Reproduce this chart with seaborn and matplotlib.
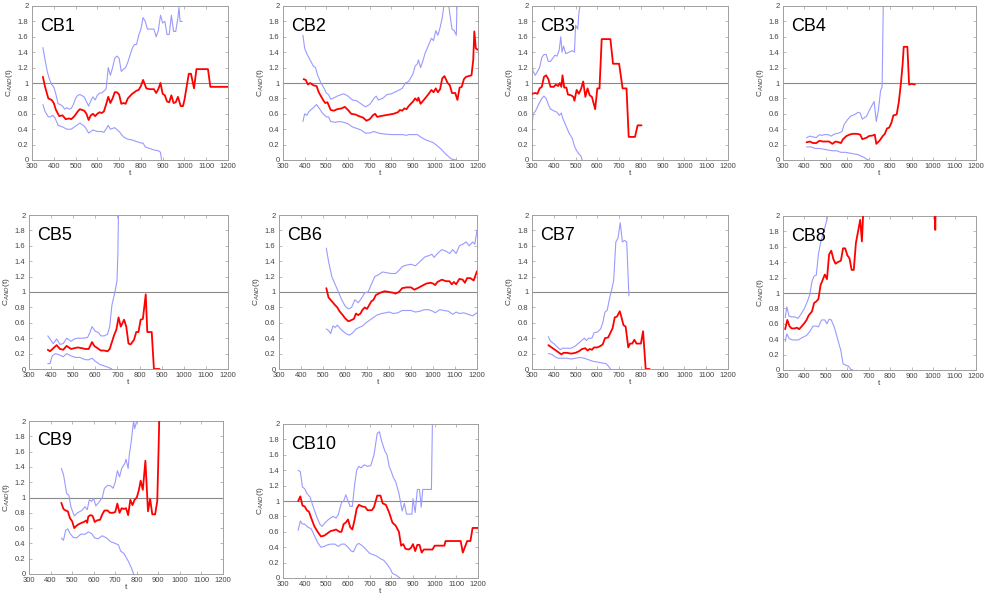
import numpy as np
import pandas as pd
import matplotlib
matplotlib.use("Agg")
import matplotlib.pyplot as plt
import seaborn as sns

# ---- series per case: (t, C_AND estimate), upper and lower confidence bounds ----
cb1_t = [350, 360, 375, 390, 400, 410, 425, 440, 455, 470, 480, 495, 510, 520, 540, 550, 560, 570, 580, 590, 600, 610, 620, 630, 640, 650, 660, 670, 680, 690, 700, 710, 720, 730, 740, 760, 780, 790, 800, 810, 825, 840, 860, 870, 880, 890, 900, 910, 920, 930, 940, 950, 960, 970, 983, 993, 1000, 1010, 1020, 1030, 1044, 1055, 1070, 1108, 1119, 1200]
cb1_c = [1.08, 0.95, 0.8, 0.78, 0.74, 0.65, 0.57, 0.58, 0.53, 0.54, 0.53, 0.57, 0.63, 0.66, 0.64, 0.6, 0.52, 0.58, 0.6, 0.57, 0.6, 0.62, 0.61, 0.63, 0.72, 0.82, 0.74, 0.8, 0.88, 0.88, 0.85, 0.73, 0.74, 0.73, 0.8, 0.86, 0.9, 0.91, 0.96, 1.04, 0.93, 0.92, 0.92, 0.87, 0.92, 1.0, 0.86, 0.84, 0.76, 0.75, 0.84, 0.74, 0.75, 0.82, 0.7, 0.7, 0.78, 0.95, 1.12, 1.12, 0.93, 1.18, 1.18, 1.18, 0.95, 0.95]
cb1_ut = [350, 360, 370, 380, 390, 400, 410, 420, 430, 440, 450, 460, 470, 480, 490, 500, 510, 520, 540, 550, 560, 570, 580, 590, 600, 610, 620, 640, 645, 650, 660, 670, 680, 690, 700, 710, 720, 730, 740, 760, 770, 780, 790, 800, 810, 820, 830, 840, 860, 870, 880, 890, 900, 910, 920, 930, 940, 950, 960, 970, 975, 980, 990]
cb1_u = [1.46, 1.3, 1.15, 1.05, 0.98, 0.95, 0.85, 0.73, 0.72, 0.7, 0.66, 0.68, 0.66, 0.67, 0.72, 0.8, 0.84, 0.85, 0.82, 0.76, 0.7, 0.77, 0.82, 0.78, 0.84, 0.87, 0.87, 0.92, 1.05, 1.2, 1.1, 1.2, 1.32, 1.35, 1.32, 1.15, 1.18, 1.2, 1.27, 1.45, 1.5, 1.5, 1.62, 1.7, 1.85, 1.8, 1.7, 1.7, 1.7, 1.6, 1.68, 1.88, 1.78, 1.8, 1.63, 1.63, 1.88, 1.67, 1.67, 1.85, 1.98, 1.8, 1.8]
cb1_lt = [350, 360, 375, 385, 395, 405, 420, 440, 460, 480, 500, 520, 540, 550, 560, 580, 600, 620, 630, 640, 650, 660, 680, 700, 720, 740, 760, 780, 800, 810, 820, 840, 860, 880, 890, 895]
cb1_l = [0.72, 0.63, 0.56, 0.56, 0.58, 0.55, 0.45, 0.43, 0.4, 0.4, 0.44, 0.48, 0.44, 0.4, 0.35, 0.39, 0.37, 0.37, 0.36, 0.4, 0.45, 0.4, 0.42, 0.37, 0.3, 0.27, 0.26, 0.24, 0.22, 0.22, 0.17, 0.15, 0.13, 0.12, 0.1, 0.0]

cb2_t = [395, 405, 415, 425, 440, 455, 465, 475, 485, 495, 505, 520, 535, 550, 570, 585, 600, 615, 635, 650, 670, 685, 700, 715, 725, 735, 750, 770, 790, 810, 830, 840, 850, 860, 870, 880, 900, 910, 920, 925, 935, 950, 970, 985, 995, 1005, 1015, 1025, 1035, 1045, 1060, 1070, 1080, 1095, 1105, 1115, 1125, 1135, 1145, 1170, 1178, 1183, 1190, 1200]
cb2_c = [1.05, 1.04, 0.98, 1.0, 0.97, 0.96, 0.88, 0.83, 0.78, 0.74, 0.75, 0.65, 0.64, 0.66, 0.67, 0.69, 0.65, 0.6, 0.59, 0.57, 0.55, 0.51, 0.53, 0.58, 0.6, 0.56, 0.57, 0.58, 0.59, 0.6, 0.62, 0.65, 0.64, 0.67, 0.66, 0.7, 0.76, 0.8, 0.77, 0.81, 0.73, 0.78, 0.85, 0.91, 0.88, 0.93, 0.88, 0.92, 1.06, 1.09, 1.0, 0.97, 0.87, 0.87, 0.78, 0.94, 0.95, 1.05, 1.08, 1.1, 1.3, 1.67, 1.45, 1.43]
cb2_ut = [392, 400, 410, 425, 440, 450, 460, 475, 490, 500, 510, 520, 530, 550, 570, 580, 600, 620, 640, 660, 680, 700, 720, 730, 740, 760, 780, 800, 830, 850, 865, 880, 900, 910, 920, 925, 935, 945, 955, 970, 985, 995, 1005, 1015, 1025, 1035, 1045, 1060, 1080, 1090, 1100, 1105]
cb2_u = [1.62, 1.45, 1.38, 1.3, 1.22, 1.2, 1.1, 1.0, 0.93, 0.87, 0.85, 0.79, 0.8, 0.83, 0.85, 0.86, 0.83, 0.78, 0.77, 0.73, 0.69, 0.72, 0.8, 0.83, 0.78, 0.8, 0.85, 0.86, 0.9, 0.93, 1.0, 1.02, 1.12, 1.22, 1.25, 1.3, 1.2, 1.28, 1.38, 1.48, 1.58, 1.55, 1.68, 1.62, 1.72, 1.85, 2.05, 2.1, 1.7, 1.68, 1.62, 2.3]
cb2_lt = [392, 400, 410, 420, 440, 455, 470, 485, 500, 510, 520, 540, 560, 580, 600, 620, 640, 660, 680, 700, 720, 740, 760, 800, 850, 870, 880, 900, 920, 940, 960, 990, 1010, 1030, 1050, 1070, 1080, 1100]
cb2_l = [0.5, 0.6, 0.58, 0.63, 0.68, 0.72, 0.66, 0.6, 0.56, 0.56, 0.5, 0.49, 0.5, 0.49, 0.47, 0.43, 0.41, 0.39, 0.35, 0.35, 0.37, 0.35, 0.34, 0.33, 0.33, 0.32, 0.33, 0.33, 0.33, 0.29, 0.26, 0.23, 0.19, 0.14, 0.08, 0.03, 0.01, 0.0]

cb3_t = [300, 315, 325, 335, 345, 355, 365, 375, 385, 400, 410, 420, 428, 435, 440, 448, 458, 465, 480, 490, 495, 505, 515, 525, 535, 545, 555, 565, 575, 590, 600, 610, 620, 660, 672, 700, 716, 734, 744, 773, 785, 803]
cb3_c = [0.86, 0.87, 0.86, 0.93, 0.95, 1.08, 1.1, 1.05, 0.95, 0.95, 0.98, 0.96, 1.0, 0.95, 1.1, 0.94, 0.94, 0.85, 0.84, 0.82, 0.77, 0.91, 0.86, 0.92, 1.02, 0.82, 0.93, 0.84, 0.82, 0.66, 0.93, 0.93, 1.57, 1.57, 1.25, 1.25, 0.93, 0.93, 0.3, 0.3, 0.45, 0.45]
cb3_ut = [300, 305, 315, 325, 335, 345, 355, 365, 375, 385, 395, 405, 415, 425, 432, 438, 445, 455, 470, 485, 495, 500, 510, 515, 520, 525]
cb3_u = [1.25, 1.15, 1.1, 1.15, 1.2, 1.33, 1.37, 1.37, 1.28, 1.28, 1.32, 1.36, 1.35, 1.43, 1.6, 1.4, 1.48, 1.38, 1.4, 1.42, 1.4, 1.75, 1.7, 1.9, 2.0, 2.1]
cb3_lt = [300, 305, 315, 330, 345, 355, 365, 375, 385, 400, 415, 425, 435, 440, 455, 470, 485, 495, 505, 515, 525, 530]
cb3_l = [0.43, 0.6, 0.63, 0.72, 0.8, 0.83, 0.8, 0.72, 0.66, 0.64, 0.62, 0.58, 0.61, 0.55, 0.45, 0.35, 0.28, 0.18, 0.12, 0.08, 0.05, 0.0]

cb4_t = [410, 425, 440, 455, 470, 485, 500, 515, 530, 545, 560, 570, 580, 595, 610, 625, 645, 660, 670, 690, 700, 720, 728, 735, 750, 765, 775, 785, 795, 805, 815, 830, 840, 850, 858, 863, 880, 888, 900, 915]
cb4_c = [0.23, 0.24, 0.22, 0.22, 0.25, 0.24, 0.24, 0.24, 0.21, 0.24, 0.23, 0.22, 0.27, 0.31, 0.33, 0.34, 0.34, 0.33, 0.27, 0.29, 0.31, 0.32, 0.33, 0.21, 0.25, 0.31, 0.34, 0.41, 0.42, 0.48, 0.58, 0.59, 0.75, 1.0, 1.25, 1.47, 1.47, 0.98, 0.99, 0.98]
cb4_ut = [410, 425, 440, 455, 470, 480, 495, 510, 525, 535, 545, 560, 575, 585, 600, 615, 625, 640, 650, 660, 670, 690, 705, 715, 725, 735, 745, 755, 762, 765, 768]
cb4_u = [0.29, 0.31, 0.3, 0.29, 0.33, 0.32, 0.33, 0.33, 0.31, 0.33, 0.34, 0.35, 0.37, 0.46, 0.52, 0.57, 0.58, 0.6, 0.62, 0.61, 0.53, 0.57, 0.66, 0.71, 0.76, 0.5, 0.65, 0.9, 0.95, 1.5, 2.1]
cb4_lt = [410, 430, 450, 470, 490, 510, 530, 550, 570, 590, 610, 630, 650, 665, 680, 690, 700]
cb4_l = [0.17, 0.17, 0.15, 0.15, 0.14, 0.13, 0.12, 0.12, 0.1, 0.1, 0.09, 0.08, 0.07, 0.05, 0.03, 0.01, 0.0]

cb5_t = [385, 395, 410, 425, 440, 455, 470, 480, 490, 505, 520, 540, 555, 570, 585, 595, 610, 625, 640, 655, 665, 675, 685, 695, 705, 715, 730, 740, 750, 760, 775, 785, 795, 805, 815, 828, 835, 855, 865, 890]
cb5_c = [0.25, 0.23, 0.27, 0.31, 0.26, 0.25, 0.3, 0.28, 0.26, 0.27, 0.28, 0.27, 0.26, 0.26, 0.35, 0.3, 0.27, 0.24, 0.24, 0.23, 0.26, 0.35, 0.44, 0.51, 0.67, 0.55, 0.64, 0.55, 0.33, 0.32, 0.38, 0.48, 0.48, 0.64, 0.65, 0.97, 0.48, 0.48, 0.0, 0.0]
cb5_ut = [385, 400, 410, 425, 440, 455, 470, 490, 505, 520, 545, 565, 575, 585, 600, 615, 625, 640, 655, 665, 675, 690, 698, 702, 705]
cb5_u = [0.43, 0.37, 0.33, 0.39, 0.32, 0.33, 0.4, 0.36, 0.39, 0.4, 0.4, 0.41, 0.47, 0.55, 0.49, 0.47, 0.43, 0.43, 0.45, 0.55, 0.83, 1.02, 1.15, 1.5, 2.1]
cb5_lt = [385, 395, 405, 420, 440, 455, 470, 490, 510, 530, 555, 570, 585, 600, 620, 640, 660, 675]
cb5_l = [0.07, 0.07, 0.17, 0.2, 0.18, 0.16, 0.2, 0.17, 0.15, 0.15, 0.12, 0.12, 0.14, 0.1, 0.06, 0.04, 0.02, 0.0]

cb6_t = [515, 525, 540, 555, 565, 575, 590, 600, 615, 625, 640, 650, 660, 670, 680, 690, 700, 710, 720, 730, 740, 760, 780, 800, 820, 830, 845, 860, 880, 900, 915, 930, 950, 970, 990, 1000, 1010, 1020, 1040, 1060, 1075, 1085, 1095, 1105, 1120, 1135, 1145, 1155, 1170, 1185, 1200]
cb6_c = [1.05, 0.93, 0.88, 0.83, 0.8, 0.75, 0.7, 0.66, 0.62, 0.63, 0.65, 0.72, 0.7, 0.72, 0.77, 0.8, 0.78, 0.83, 0.88, 0.9, 0.96, 0.99, 1.01, 1.0, 0.99, 0.98, 1.0, 1.05, 1.06, 1.06, 1.03, 1.05, 1.08, 1.11, 1.12, 1.11, 1.09, 1.13, 1.16, 1.14, 1.14, 1.1, 1.13, 1.1, 1.17, 1.16, 1.12, 1.18, 1.18, 1.15, 1.27]
cb6_ut = [515, 525, 540, 555, 570, 585, 600, 615, 630, 645, 660, 675, 690, 705, 720, 735, 750, 770, 790, 810, 830, 845, 860, 880, 900, 920, 935, 950, 965, 980, 995, 1005, 1020, 1040, 1060, 1075, 1090, 1105, 1120, 1135, 1150, 1165, 1180, 1190, 1200]
cb6_u = [1.57, 1.4, 1.2, 1.1, 1.0, 0.9, 0.82, 0.78, 0.8, 0.9, 0.86, 0.92, 0.99, 1.0, 1.1, 1.2, 1.22, 1.26, 1.25, 1.24, 1.24, 1.28, 1.33, 1.35, 1.36, 1.34, 1.38, 1.42, 1.46, 1.47, 1.49, 1.45, 1.5, 1.55, 1.53, 1.5, 1.55, 1.5, 1.6, 1.62, 1.65, 1.6, 1.65, 1.62, 1.8]
cb6_lt = [515, 525, 535, 545, 555, 565, 580, 595, 610, 620, 635, 650, 665, 680, 695, 710, 725, 745, 765, 785, 800, 820, 840, 860, 880, 900, 920, 940, 960, 980, 1000, 1010, 1030, 1050, 1070, 1090, 1105, 1120, 1140, 1160, 1180, 1200]
cb6_l = [0.52, 0.5, 0.46, 0.56, 0.54, 0.57, 0.52, 0.48, 0.45, 0.44, 0.47, 0.52, 0.54, 0.56, 0.6, 0.63, 0.66, 0.7, 0.72, 0.73, 0.74, 0.72, 0.73, 0.76, 0.76, 0.76, 0.74, 0.75, 0.77, 0.77, 0.75, 0.73, 0.77, 0.76, 0.75, 0.71, 0.74, 0.72, 0.73, 0.71, 0.69, 0.73]

cb7_t = [375, 390, 405, 420, 435, 445, 460, 480, 500, 515, 530, 545, 555, 565, 575, 585, 600, 615, 625, 635, 650, 660, 670, 680, 690, 703, 710, 720, 730, 742, 750, 760, 770, 780, 800, 810, 822, 840]
cb7_c = [0.31, 0.28, 0.25, 0.22, 0.19, 0.21, 0.21, 0.2, 0.21, 0.23, 0.26, 0.27, 0.24, 0.26, 0.25, 0.28, 0.28, 0.3, 0.32, 0.4, 0.41, 0.47, 0.53, 0.67, 0.68, 0.75, 0.68, 0.57, 0.55, 0.28, 0.33, 0.33, 0.38, 0.33, 0.33, 0.49, 0.0, 0.0]
cb7_ut = [375, 385, 400, 415, 430, 440, 460, 480, 500, 520, 540, 550, 560, 575, 585, 600, 615, 625, 635, 645, 655, 665, 675, 685, 695, 705, 715, 725, 735, 745]
cb7_u = [0.42, 0.36, 0.33, 0.29, 0.25, 0.27, 0.27, 0.27, 0.3, 0.35, 0.4, 0.37, 0.4, 0.4, 0.47, 0.48, 0.52, 0.6, 0.74, 0.76, 0.9, 1.02, 1.15, 1.65, 1.7, 1.9, 1.65, 1.67, 1.65, 0.95]
cb7_lt = [375, 390, 405, 420, 440, 460, 480, 500, 520, 540, 560, 580, 600, 620, 640, 650, 660]
cb7_l = [0.2, 0.19, 0.16, 0.14, 0.14, 0.14, 0.13, 0.14, 0.15, 0.14, 0.12, 0.1, 0.09, 0.08, 0.07, 0.04, 0.0]

cb8_t = [310, 320, 330, 340, 355, 365, 375, 385, 400, 410, 420, 435, 445, 455, 465, 475, 485, 495, 505, 515, 525, 535, 545, 555, 570, 580, 590, 600, 610, 620, 630, 640, 650, 660, 668, 675, 690, 1005, 1010, 1013]
cb8_c = [0.53, 0.65, 0.57, 0.54, 0.54, 0.55, 0.53, 0.56, 0.61, 0.65, 0.71, 0.76, 0.87, 0.89, 0.92, 1.1, 1.17, 1.24, 1.18, 1.5, 1.55, 1.44, 1.38, 1.4, 1.42, 1.58, 1.58, 1.49, 1.45, 1.3, 1.3, 1.65, 1.8, 1.95, 1.67, 2.1, 2.4, 2.4, 1.82, 2.4]
cb8_ut = [310, 318, 328, 340, 355, 370, 385, 400, 415, 425, 435, 445, 455, 465, 475, 485, 495, 505, 512]
cb8_u = [0.68, 0.82, 0.7, 0.69, 0.69, 0.67, 0.73, 0.8, 0.9, 0.98, 1.15, 1.22, 1.23, 1.5, 1.65, 1.75, 1.85, 1.95, 2.1]
cb8_lt = [310, 318, 328, 345, 370, 390, 410, 425, 440, 455, 465, 480, 495, 505, 515, 525, 540, 555, 570, 580, 595, 605, 615, 625]
cb8_l = [0.37, 0.47, 0.41, 0.39, 0.39, 0.42, 0.45, 0.5, 0.57, 0.57, 0.56, 0.65, 0.65, 0.6, 0.66, 0.65, 0.55, 0.4, 0.25, 0.08, 0.06, 0.05, 0.01, 0.0]

cb9_t = [450, 460, 470, 480, 490, 500, 510, 520, 530, 545, 555, 565, 570, 575, 585, 595, 605, 615, 630, 640, 650, 665, 675, 690, 700, 710, 720, 730, 740, 750, 760, 770, 780, 790, 800, 810, 818, 828, 840, 852, 862, 872, 885, 895, 900, 905]
cb9_c = [0.93, 0.85, 0.83, 0.82, 0.73, 0.69, 0.6, 0.63, 0.65, 0.67, 0.68, 0.7, 0.67, 0.75, 0.77, 0.76, 0.68, 0.7, 0.71, 0.78, 0.83, 0.83, 0.8, 0.8, 0.81, 0.92, 0.8, 0.86, 0.85, 0.86, 0.77, 0.97, 0.9, 0.97, 1.0, 1.1, 1.22, 1.1, 1.48, 0.82, 0.98, 0.78, 0.78, 0.95, 1.5, 2.1]
cb9_ut = [450, 460, 475, 485, 495, 510, 525, 545, 560, 570, 580, 590, 600, 610, 625, 640, 650, 665, 680, 690, 700, 710, 720, 730, 745, 750, 760, 765, 775, 785, 790, 800, 810]
cb9_u = [1.38, 1.3, 1.05, 1.03, 0.87, 0.76, 0.8, 0.83, 0.88, 0.84, 0.97, 0.95, 0.99, 0.89, 0.94, 1.0, 1.12, 1.16, 1.15, 1.12, 1.2, 1.35, 1.27, 1.38, 1.45, 1.5, 1.38, 1.55, 1.75, 2.0, 1.9, 2.0, 2.1]
cb9_lt = [450, 460, 470, 480, 490, 505, 520, 540, 560, 575, 590, 605, 620, 640, 660, 680, 700, 715, 725, 740, 760, 775, 785]
cb9_l = [0.47, 0.44, 0.57, 0.59, 0.53, 0.48, 0.47, 0.52, 0.52, 0.55, 0.53, 0.47, 0.46, 0.5, 0.47, 0.42, 0.4, 0.38, 0.3, 0.27, 0.17, 0.08, 0.0]

cb10_t = [370, 380, 390, 400, 410, 420, 430, 445, 460, 475, 490, 505, 520, 535, 545, 560, 570, 580, 590, 600, 610, 620, 630, 640, 650, 665, 680, 690, 710, 720, 735, 750, 760, 775, 790, 805, 820, 835, 845, 855, 865, 880, 890, 900, 910, 920, 930, 940, 950, 990, 1000, 1045, 1050, 1120, 1130, 1150, 1165, 1175, 1200]
cb10_c = [1.0, 1.06, 0.94, 0.93, 0.88, 0.86, 0.78, 0.67, 0.6, 0.54, 0.55, 0.58, 0.61, 0.62, 0.63, 0.6, 0.6, 0.7, 0.72, 0.76, 0.66, 0.63, 0.75, 0.9, 0.95, 0.93, 0.92, 0.88, 0.88, 0.92, 1.07, 1.07, 0.97, 0.95, 0.85, 0.72, 0.68, 0.6, 0.42, 0.44, 0.38, 0.37, 0.39, 0.44, 0.35, 0.43, 0.43, 0.33, 0.37, 0.37, 0.42, 0.42, 0.48, 0.48, 0.33, 0.48, 0.48, 0.65, 0.65]
cb10_ut = [370, 380, 390, 400, 410, 425, 440, 455, 470, 480, 495, 510, 530, 545, 555, 570, 580, 590, 600, 610, 620, 630, 640, 650, 660, 675, 690, 705, 720, 735, 745, 755, 770, 780, 790, 800, 810, 820, 835, 850, 860, 870, 880, 895, 900, 910, 920, 930, 938, 945, 985, 990]
cb10_u = [1.4, 1.38, 1.18, 1.16, 1.1, 1.05, 0.92, 0.8, 0.7, 0.67, 0.72, 0.76, 0.8, 0.78, 0.82, 0.98, 1.0, 1.08, 1.0, 0.93, 0.93, 1.2, 1.4, 1.45, 1.43, 1.47, 1.45, 1.46, 1.6, 1.88, 1.9, 1.78, 1.65, 1.6, 1.45, 1.38, 1.3, 1.25, 1.1, 0.87, 0.97, 0.83, 0.83, 0.83, 1.03, 0.85, 1.15, 1.15, 0.92, 1.15, 1.15, 2.1]
cb10_lt = [370, 380, 390, 400, 415, 430, 445, 460, 475, 490, 505, 520, 540, 555, 570, 585, 600, 615, 625, 640, 650, 665, 680, 700, 720, 735, 750, 765, 780, 795, 805, 820, 840]
cb10_l = [0.62, 0.74, 0.7, 0.7, 0.66, 0.64, 0.55, 0.46, 0.4, 0.41, 0.43, 0.44, 0.44, 0.41, 0.44, 0.44, 0.4, 0.35, 0.34, 0.43, 0.45, 0.42, 0.38, 0.32, 0.3, 0.28, 0.25, 0.23, 0.18, 0.12, 0.06, 0.04, 0.0]

labels = ["CB1", "CB2", "CB3", "CB4", "CB5", "CB6", "CB7", "CB8", "CB9", "CB10"]
series = [
    (cb1_t, cb1_c, cb1_ut, cb1_u, cb1_lt, cb1_l),
    (cb2_t, cb2_c, cb2_ut, cb2_u, cb2_lt, cb2_l),
    (cb3_t, cb3_c, cb3_ut, cb3_u, cb3_lt, cb3_l),
    (cb4_t, cb4_c, cb4_ut, cb4_u, cb4_lt, cb4_l),
    (cb5_t, cb5_c, cb5_ut, cb5_u, cb5_lt, cb5_l),
    (cb6_t, cb6_c, cb6_ut, cb6_u, cb6_lt, cb6_l),
    (cb7_t, cb7_c, cb7_ut, cb7_u, cb7_lt, cb7_l),
    (cb8_t, cb8_c, cb8_ut, cb8_u, cb8_lt, cb8_l),
    (cb9_t, cb9_c, cb9_ut, cb9_u, cb9_lt, cb9_l),
    (cb10_t, cb10_c, cb10_ut, cb10_u, cb10_lt, cb10_l),
]

x_ticks = [300, 400, 500, 600, 700, 800, 900, 1000, 1100, 1200]
y_ticks = [0, 0.2, 0.4, 0.6, 0.8, 1, 1.2, 1.4, 1.6, 1.8, 2]
y_tick_labels = ["0", "0.2", "0.4", "0.6", "0.8", "1", "1.2", "1.4", "1.6", "1.8", "2"]

sns.set_theme(style="white")
plt.rcParams["font.family"] = ["Liberation Sans", "DejaVu Sans"]

W, H = 985, 595
fig = plt.figure(figsize=(W / 100, H / 100), dpi=100)

# panel rectangles in pixels: left, top, right, bottom
rects = [
    (32, 6, 228, 160), (283, 6, 478, 160), (532, 6, 728, 160), (783, 6, 976, 160),
    (29, 215, 228, 369), (279, 215, 477, 369), (532, 215, 728, 369), (783, 216, 976, 370),
    (29, 421, 223, 574), (283, 424, 478, 578),
]

spine_col = "#a0a0a0"
tick_col = "#444444"
for lab, (t, c, ut, u, lt, l), (x0, y0, x1, y1) in zip(labels, series, rects):
    ax = fig.add_axes([x0 / W, 1 - y1 / H, (x1 - x0) / W, (y1 - y0) / H])
    ax.axhline(1, color="#8a8a8a", lw=0.8, zorder=1)
    sns.lineplot(x=ut, y=u, ax=ax, color="#9a9aff", lw=0.8, sort=False, estimator=None, zorder=2)
    sns.lineplot(x=lt, y=l, ax=ax, color="#9a9aff", lw=0.8, sort=False, estimator=None, zorder=2)
    sns.lineplot(x=t, y=c, ax=ax, color="#ff0000", lw=1.3, sort=False, estimator=None, zorder=3)
    ax.set_xlim(300, 1200)
    ax.set_ylim(0, 2)
    ax.set_xticks(x_ticks)
    ax.set_xticklabels([str(v) for v in x_ticks])
    ax.set_yticks(y_ticks)
    ax.set_yticklabels(y_tick_labels)
    ax.tick_params(axis="both", which="both", direction="in", length=2, width=0.5,
                   colors=spine_col, labelcolor=tick_col, labelsize=5.5,
                   top=True, right=True, bottom=True, left=True)
    ax.tick_params(axis="x", pad=2.5)
    ax.tick_params(axis="y", pad=2.5)
    for s in ax.spines.values():
        s.set_color(spine_col)
        s.set_linewidth(0.7)
        s.set_visible(True)
    ax.set_xlabel("t", fontsize=6, labelpad=0, color=tick_col)
    ax.set_ylabel(r"C$_{AND}$(t)", fontsize=6, labelpad=2, color=tick_col)
    ax.text(0.04, 0.87, lab, transform=ax.transAxes, fontsize=13, color="black",
            ha="left", va="center")

fig.savefig("out.png", dpi=100, facecolor="white")
